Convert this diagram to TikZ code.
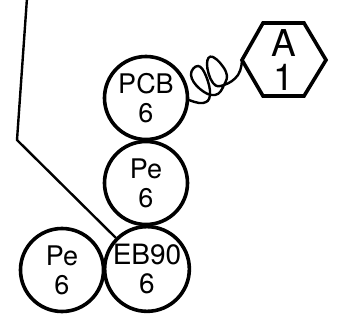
\documentclass[tikz,border=0pt]{standalone}
\usepackage{fontspec}
\setmainfont{TeX Gyre Heros}
\begin{document}
\begin{tikzpicture}[x=1pt,y=-1pt,
  ball/.style={circle,draw=black,line width=3.6pt,inner sep=0pt,minimum size=83pt,align=center,font=\fontsize{27}{29}\selectfont},
  hexa/.style={draw=black,line width=3.6pt,line join=miter},
  wire/.style={draw=black,line width=2.4pt},
  coil/.style={draw=black,line width=2.4pt,line cap=round}]
\useasboundingbox (0,0) rectangle (345,323);
\coordinate (top) at (27,-2);
\coordinate (bend) at (17,140);
\node[ball] (pcb) at (146,98) {PCB\\6};
\node[ball] (pe1) at (146,183) {Pe\\6};
\node[ball,font=\fontsize{28}{29}\selectfont] (eb) at (147,269) {EB90\\6};
\node[ball] (pe2) at (62,270) {Pe\\6};
\draw[hexa] (242,60) -- (263,23) -- (304,23) -- (326,60) -- (304,96) -- (263,96) -- cycle;
\coordinate (hexl) at (242,60);
\node[font=\fontsize{37}{34}\selectfont,inner sep=0pt,align=center] (a) at (284,60) {A\\1};
\draw[wire] (top) -- (bend) -- (eb.135);
\coordinate (cs) at (189,100);
\draw[coil] plot[smooth,tension=0.75] coordinates {(cs) (203,103) (210,95) (206,76) (198,66) (191,75) (200,89) (215,95) (224,85) (226,72) (213,57) (207,64) (213,83) (224,85) (238,75) (hexl)};
\end{tikzpicture}
\end{document}
